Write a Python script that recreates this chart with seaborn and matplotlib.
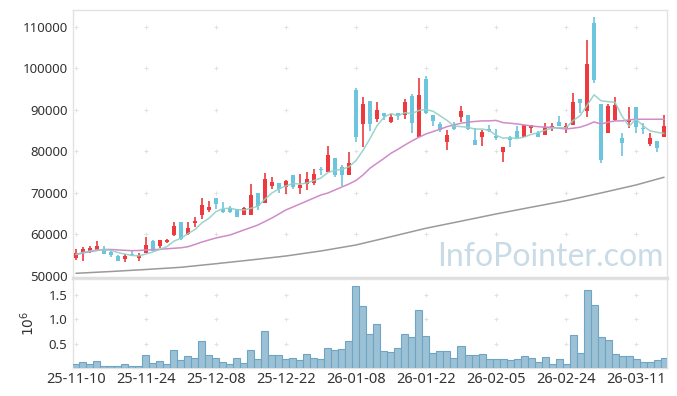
import matplotlib
matplotlib.use("Agg")
import matplotlib.pyplot as plt
import seaborn as sns
import numpy as np
import pandas as pd

# daily candles, oldest first (KRW)
opens = [54410, 55540, 55950, 56190, 56430, 55860, 54820, 54170, 55300, 54410,
         55620, 58440, 57300, 58190, 59950, 63090, 60120, 62700, 64700, 65910,
         68800, 66150, 66320, 66150, 64770, 64770, 70000, 67520, 71760, 72410,
         71520, 74270, 71280, 72170, 72490, 75710, 75140, 78370, 76200, 74340,
         94830, 86630, 92100, 87760, 89210, 87190, 89360, 88800, 93380, 83570,
         97480, 88800, 86630, 82370, 86630, 88250, 88730, 82780, 83430, 85430,
         83740, 79960, 83570, 84950, 83570, 85740, 84540, 83980, 85840, 87110,
         85500, 86390, 92580, 89840, 111050, 91450, 84540, 87600, 83330, 87190,
         90660, 85740, 81810, 82540, 83570]
highs = [56430, 57060, 57230, 58360, 57160, 56030, 55130, 55300, 56340, 55470,
         59470, 58680, 58680, 58840, 63010, 63090, 63010, 64290, 68730, 68000,
         68800, 67830, 66870, 66150, 66700, 72170, 70000, 74750, 73930, 72410,
         73140, 74270, 74510, 75140, 75710, 76340, 81330, 78370, 76750, 79960,
         95240, 93210, 92100, 92010, 89360, 88970, 89360, 92580, 93860, 97650,
         98200, 88800, 87110, 85190, 87190, 91040, 88730, 85600, 85190, 86390,
         85350, 81090, 83740, 86150, 86390, 86390, 85020, 86950, 86950, 88560,
         86800, 94180, 92580, 106880, 112490, 91450, 91380, 93210, 84540, 90800,
         90800, 86950, 84540, 82540, 88800]
lows = [53860, 53690, 55620, 55950, 55370, 54510, 53690, 53370, 54820, 53540,
        55470, 55950, 56750, 58030, 59640, 58680, 59880, 61740, 63660, 65500,
        66150, 65260, 65260, 64150, 64630, 64770, 65980, 67520, 70970, 69930,
        69760, 70890, 69760, 70730, 71930, 74340, 75140, 73930, 71760, 74340,
        82370, 81160, 84950, 87190, 87600, 86870, 87600, 87760, 84540, 83570,
        88970, 86220, 84780, 80370, 85190, 87190, 85190, 81570, 81330, 84780,
        82780, 77550, 81160, 83190, 83570, 84540, 83430, 83980, 85020, 86150,
        84390, 86390, 89210, 88250, 96440, 77160, 84540, 87360, 78920, 85600,
        84540, 84220, 81330, 79960, 83570]
closes = [55470, 56510, 56750, 57230, 55370, 55130, 53690, 54820, 55130, 54990,
          57400, 56100, 58680, 58680, 62050, 58900, 61570, 63330, 67110, 66630,
          67420, 65420, 65420, 64290, 66320, 69520, 66940, 73380, 72650, 70970,
          72900, 71520, 71860, 73300, 74510, 75550, 79160, 74340, 74340, 77160,
          83570, 91450, 86630, 89930, 88560, 88320, 88560, 91930, 86800, 93620,
          89210, 87430, 85190, 83980, 85350, 89770, 85350, 81570, 84780, 85020,
          83190, 81090, 82780, 83190, 86390, 86390, 83570, 85840, 86150, 86150,
          86220, 91930, 91770, 101160, 97240, 77960, 91040, 91280, 82130, 87670,
          85840, 85350, 83330, 80920, 86150]

# moving averages as shown on the chart
ma5 = [55180, 55660, 56030, 56270, 56300, 56190, 55650, 55280, 54950, 54850,
       55300, 55800, 56420, 57080, 58400, 59100, 60200, 61200, 62800, 63900,
       65500, 66200, 66350, 65950, 65900, 66300, 66800, 68500, 70000, 71000,
       71700, 72290, 72150, 72400, 73000, 73600, 74950, 75450, 75700, 76300,
       77800, 80250, 83100, 86200, 88250, 89100, 88600, 89350, 89100, 89900,
       90100, 89700, 88600, 87500, 86100, 86000, 85800, 85400, 85400, 85100,
       83900, 83200, 83300, 83100, 83450, 84100, 84500, 85130, 85630, 85730,
       85700, 87430, 88620, 91100, 93640, 92200, 92000, 91850, 88500, 86100,
       87800, 86200, 84950, 84620, 84350]
ma20 = [55180, 55540, 55860, 56150, 56390, 56390, 56270, 56190, 56100, 56150,
        56270, 56340, 56430, 56560, 56680, 56800, 57060, 57590, 58190, 58680,
        59160, 59520, 59880, 60480, 61090, 61690, 62290, 63130, 63980, 64940,
        65910, 66630, 67350, 68080, 68800, 69520, 70000, 70730, 71450, 72170,
        73020, 74340, 75960, 77160, 78320, 79570, 80530, 81570, 82540, 83430,
        84220, 84780, 85350, 85980, 86390, 86800, 87040, 87230, 87360, 87360,
        87480, 86950, 86800, 86630, 86390, 86150, 85980, 85840, 85840, 85600,
        85430, 85600, 85840, 86390, 87110, 86630, 87040, 87360, 87360, 87600,
        87760, 87760, 87760, 87760, 87760]
ma120_day = [0, 5, 10, 15, 20, 25, 30, 35, 40, 45, 50, 55, 60, 65, 70, 75, 80, 84]
ma120 = [50650, 51080, 51570, 52100, 52960, 53860, 54820, 56030, 57470, 59470,
         61500, 63210, 64940, 66560, 68150, 70000, 71930, 73790]

# traded volume, millions of shares
volume_mil = [0.08, 0.12, 0.08, 0.14, 0.05, 0.05, 0.05, 0.08, 0.05, 0.05,
              0.26, 0.10, 0.14, 0.08, 0.36, 0.16, 0.24, 0.20, 0.55, 0.26,
              0.20, 0.12, 0.08, 0.20, 0.10, 0.36, 0.18, 0.77, 0.26, 0.26,
              0.18, 0.20, 0.16, 0.28, 0.20, 0.18, 0.42, 0.36, 0.40, 0.55,
              1.68, 1.28, 0.69, 0.91, 0.34, 0.32, 0.42, 0.70, 0.64, 1.20,
              0.66, 0.30, 0.34, 0.34, 0.20, 0.46, 0.26, 0.26, 0.28, 0.18,
              0.18, 0.18, 0.16, 0.18, 0.24, 0.20, 0.12, 0.22, 0.08, 0.18,
              0.08, 0.67, 0.30, 1.60, 1.30, 0.64, 0.58, 0.28, 0.24, 0.24,
              0.18, 0.12, 0.12, 0.16, 0.20]

tick_days = [0, 10, 20, 30, 40, 50, 60, 70, 80]
tick_labels = ['25-11-10', '25-11-24', '25-12-08', '25-12-22', '26-01-08',
               '26-01-22', '26-02-05', '26-02-24', '26-03-11']
price_ticks = [50000, 60000, 70000, 80000, 90000, 100000, 110000]
vol_ticks = [0.5, 1.0, 1.5]

RED = '#ec3a3f'
BLUE = '#6cc4dd'

sns.set_theme(style="white")
plt.rcParams['font.family'] = ['Noto Sans', 'DejaVu Sans']

df = pd.DataFrame({'day': np.arange(len(closes)), 'open': opens, 'high': highs,
                   'low': lows, 'close': closes, 'ma5': ma5, 'ma20': ma20,
                   'vol': volume_mil})
col = np.where(df['close'] >= df['open'], RED, BLUE)

fig = plt.figure(figsize=(6.77, 3.96), dpi=100)
ax = fig.add_axes([0.108, 0.298, 0.877, 0.677])
axv = fig.add_axes([0.108, 0.0707, 0.877, 0.2248])

# grid is just little crosses at tick intersections
gx, gy = np.meshgrid(tick_days, price_ticks[1:])
ax.scatter(gx.ravel(), gy.ravel(), marker='+', s=12, color='#e2e2e2', linewidths=0.7, zorder=1)
gx, gy = np.meshgrid(tick_days, vol_ticks)
axv.scatter(gx.ravel(), gy.ravel(), marker='+', s=12, color='#e2e2e2', linewidths=0.7, zorder=1)

ax.text(0.804, 0.046, 'InfoPointer.com', transform=ax.transAxes, ha='center', va='baseline',
        fontsize=23, family='Lato', color='#c9dbe6', zorder=2)

# candles
ax.vlines(df['day'], df['low'], df['high'], colors=col, linewidth=1.2, zorder=3)
body = (df['close'] - df['open']).abs().clip(lower=200)
ax.bar(df['day'], body, bottom=df[['open', 'close']].min(axis=1), width=0.66,
       color=col, linewidth=0, zorder=4)

sns.lineplot(x=ma120_day, y=ma120, ax=ax, color='#9a9a9a', linewidth=1.1, zorder=5)
sns.lineplot(data=df, x='day', y='ma20', ax=ax, color='#cf8cc8', linewidth=1.1, zorder=5)
sns.lineplot(data=df, x='day', y='ma5', ax=ax, color='#92d0c6', linewidth=1.1, alpha=0.9, zorder=6)

ax.set_ylim(49520, 114100)
ax.set_yticks(price_ticks)
ax.set_yticklabels([str(v) for v in price_ticks])
ax.set_xlabel('')
ax.set_ylabel('')

sns.barplot(data=df, x='day', y='vol', ax=axv, native_scale=True, width=1.0,
            color='#9cc1d5', saturation=1, edgecolor='#6ea5c4', linewidth=0.8, zorder=3)
axv.set_ylim(0, 1.83)
axv.set_yticks(vol_ticks)
axv.set_yticklabels(['0.5', '1.0', '1.5'])
axv.set_xlabel('')
axv.set_ylabel(r'$10^6$', fontsize=10, color='#333333', labelpad=8)

for a in (ax, axv):
    a.set_xlim(-0.4, 84.4)
    a.set_xticks(tick_days)
    a.tick_params(length=0, colors='#333333', labelsize=9.5, pad=4)
    for s in a.spines.values():
        s.set_color('#e2e2e2')
        s.set_linewidth(1)
ax.set_xticklabels([])
axv.set_xticklabels(tick_labels)
axv.tick_params(axis='x', labelsize=10.5, pad=3)
ax.spines['bottom'].set_linewidth(2.5)
ax.spines['bottom'].set_color('#dedede')

fig.savefig('out.png', dpi=100)
